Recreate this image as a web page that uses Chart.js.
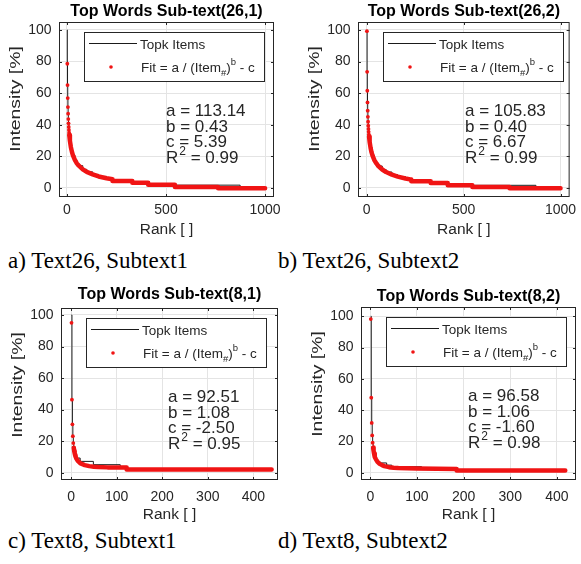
<!DOCTYPE html>
<html>
<head>
<meta charset="utf-8">
<script src="https://cdn.jsdelivr.net/npm/chart.js@4/dist/chart.umd.min.js"></script>
<style>
  body { margin: 0; background: #fff; width: 581px; height: 564px; position: relative; overflow: hidden; }
  canvas { position: absolute; }
  .cap { position: absolute; font-family: 'Liberation Serif', 'Times New Roman', serif; font-size: 23px; line-height: 23px; color: #000; white-space: nowrap; }
</style>
</head>
<body>
<canvas id="pa" width="290" height="240" style="left:0;top:0"></canvas>
<canvas id="pb" width="291" height="240" style="left:290px;top:0"></canvas>
<canvas id="pc" width="290" height="245" style="left:0;top:280px"></canvas>
<canvas id="pd" width="291" height="245" style="left:290px;top:280px"></canvas>
<div class="cap" style="left:8px;top:249px">a) Text26, Subtext1</div>
<div class="cap" style="left:278px;top:249px">b) Text26, Subtext2</div>
<div class="cap" style="left:8px;top:529px">c) Text8, Subtext1</div>
<div class="cap" style="left:278px;top:529px">d) Text8, Subtext2</div>
<script>
// ---- data ----
// (26,1)
const rankTopA = [1, 2, 3, 4, 5, 6, 7, 8, 10, 12, 15, 20, 25, 30, 40, 50, 60, 80, 100, 130, 160, 200, 230, 330, 410, 545, 874, 1000];
const topA     = [100, 78.6, 65.1, 56.9, 51.2, 47.0, 43.6, 40.9, 36.7, 33.5, 29.9, 25.8, 23.0, 20.8, 17.8, 15.6, 14.1, 11.8, 10.2, 8.6, 7.3, 6.2, 4.4, 3.3, 2.1, 1.8, 0.1, 0.1];
const rankDotA = [2, 3, 4, 5, 6, 7, 8, 9, 10, 11, 12];
const dotA     = [78.6, 65.1, 56.9, 51.2, 47.0, 43.6, 40.9, 38.6, 36.7, 35.0, 33.5];
const rankFitA = [12, 15, 20, 25, 30, 40, 50, 60, 80, 100, 130, 160, 200, 230, 230, 330, 330, 410, 410, 545, 545, 763, 763, 1000];
const fitA     = [33.5, 29.9, 25.8, 23.0, 20.8, 17.8, 15.6, 14.1, 11.8, 10.2, 8.6, 7.3, 6.2, 5.5, 4.4, 4.4, 3.3, 3.3, 2.1, 2.1, 0.6, 0.6, -0.1, -0.1];
const paramsA  = [113.14, 0.43, 5.39, 0.99];

// (26,2)
const rankTopB = [1, 2, 3, 4, 5, 6, 7, 8, 10, 12, 15, 20, 25, 30, 40, 50, 60, 80, 100, 130, 160, 200, 230, 330, 418, 545, 873, 1000];
const topB     = [100, 73.5, 61.5, 54.1, 48.9, 45.0, 41.9, 39.4, 35.5, 32.5, 29.2, 25.3, 22.5, 20.5, 17.5, 15.5, 13.9, 11.7, 10.1, 8.4, 7.2, 6.0, 4.3, 3.2, 1.8, 1.7, 0.0, 0.0];
const rankDotB = [1, 2, 3, 4, 5, 6, 7, 8, 9, 10, 11, 12];
const dotB     = [99.2, 73.5, 61.5, 54.1, 48.9, 45.0, 41.9, 39.4, 37.3, 35.5, 33.9, 32.5];
const rankFitB = [12, 15, 20, 25, 30, 40, 50, 60, 80, 100, 130, 160, 200, 230, 230, 330, 330, 418, 418, 545, 545, 737, 737, 1000];
const fitB     = [32.5, 29.2, 25.3, 22.5, 20.5, 17.5, 15.5, 13.9, 11.7, 10.1, 8.4, 7.2, 6.0, 5.3, 4.3, 4.3, 3.2, 3.2, 1.8, 1.8, 0.6, 0.6, -0.2, -0.2];
const paramsB  = [105.83, 0.40, 6.67, 0.99];

// (8,1)
const rankTopC = [1, 2, 3, 4, 5, 6, 7, 8, 10, 12, 16, 20, 49, 108, 122, 440];
const topC     = [100, 46.3, 30.7, 23.2, 18.8, 15.9, 13.8, 12.3, 10.2, 9.3, 9.3, 7.2, 5.1, 4.0, 2.0, 2.0];
const rankDotC = [1, 2, 3, 4, 5, 6];
const dotC     = [95.0, 46.3, 30.7, 23.2, 18.8, 15.9];
const rankFitC = [6, 7, 8, 9, 10, 12, 15, 20, 25, 30, 40, 50, 60, 80, 122, 122, 440];
const fitC     = [15.9, 13.8, 12.3, 11.1, 10.2, 8.8, 7.5, 6.1, 5.4, 4.85, 4.2, 3.85, 3.6, 3.4, 3.3, 2.0, 2.0];
const paramsC  = [92.51, 1.08, -2.50, 0.95];

// (8,2)
const rankTopD = [1, 2, 3, 4, 5, 6, 7, 8, 10, 12, 15, 20, 35, 46, 110, 185, 418];
const topD     = [100, 47.9, 31.8, 23.8, 19.1, 16.0, 13.9, 12.2, 10.0, 8.5, 7.1, 6.2, 4.8, 3.8, 2.4, 1.3, 1.3];
const rankDotD = [1, 2, 3, 4, 5, 6];
const dotD     = [98.2, 47.9, 31.8, 23.8, 19.1, 16.0];
const rankFitD = [6, 7, 8, 9, 10, 12, 15, 20, 25, 30, 40, 50, 60, 100, 185, 185, 418];
const fitD     = [16.0, 13.9, 12.2, 11.0, 10.0, 8.5, 7.1, 5.6, 4.8, 4.2, 3.5, 3.1, 2.9, 2.6, 2.4, 1.3, 1.3];
const paramsD  = [96.58, 1.06, -1.60, 0.98];

const titles = ['Top Words Sub-text(26,1)', 'Top Words Sub-text(26,2)', 'Top Words Sub-text(8,1)', 'Top Words Sub-text(8,2)'];
const yTicks = [0, 20, 40, 60, 80, 100];
const xTicksLong = [0, 500, 1000];
const xTicksShort = [0, 100, 200, 300, 400];

const RED = '#f01414';
const INK = '#262626';
const SANS = "'Liberation Sans', Arial, Helvetica, sans-serif";

function pts(xs, ys) {
  return xs.map((x, i) => ({ x: x, y: ys[i] }));
}

// axes box, inward ticks, title, ylabel, legend and fit text (matlab look)
const decor = {
  id: 'decor',
  afterDatasetsDraw(chart, args, o) {
    const ctx = chart.ctx, a = chart.chartArea;
    const xs = chart.scales.x, ys = chart.scales.y;
    ctx.save();
    ctx.strokeStyle = INK;
    ctx.lineWidth = 1;
    ctx.beginPath();
    xs.ticks.forEach(t => {
      const p = Math.round(xs.getPixelForValue(t.value)) + 0.5;
      ctx.moveTo(p, a.bottom); ctx.lineTo(p, a.bottom - 3);
      ctx.moveTo(p, a.top); ctx.lineTo(p, a.top + 3);
    });
    ys.ticks.forEach(t => {
      const p = Math.round(ys.getPixelForValue(t.value)) + 0.5;
      ctx.moveTo(a.left, p); ctx.lineTo(a.left + 3, p);
      ctx.moveTo(a.right, p); ctx.lineTo(a.right - 3, p);
    });
    ctx.stroke();
    ctx.strokeRect(a.left + 0.5, a.top + 0.5, a.right - a.left - 1, a.bottom - a.top - 1);

    // title
    ctx.fillStyle = '#000';
    ctx.font = 'bold 16px ' + SANS;
    ctx.textAlign = 'center';
    ctx.textBaseline = 'middle';
    ctx.fillText(o.title, (a.left + a.right) / 2, a.top - o.titleGap);

    // y label, stretched like the source
    ctx.save();
    ctx.translate(a.left - 43, a.top + 77);
    ctx.rotate(-Math.PI / 2);
    ctx.scale(1.25, 1);
    ctx.fillStyle = INK;
    ctx.font = '15.5px ' + SANS;
    ctx.fillText('Intensity [%]', 0, 0);
    ctx.restore();

    // legend
    const lx = a.left + 25, ly = a.top + 10;
    ctx.fillStyle = '#fff';
    ctx.fillRect(lx, ly, 180, 49);
    ctx.strokeStyle = INK;
    ctx.strokeRect(lx + 0.5, ly + 0.5, 180, 49);
    ctx.strokeStyle = '#1a1a1a';
    ctx.beginPath();
    ctx.moveTo(a.left + 30, a.top + 21.5);
    ctx.lineTo(a.left + 78, a.top + 21.5);
    ctx.stroke();
    ctx.fillStyle = RED;
    ctx.beginPath();
    ctx.arc(a.left + 52, a.top + 45, 1.8, 0, Math.PI * 2);
    ctx.fill();
    ctx.fillStyle = INK;
    ctx.textAlign = 'left';
    ctx.textBaseline = 'alphabetic';
    ctx.font = '13.5px ' + SANS;
    ctx.fillText('Topk Items', a.left + 81, a.top + 26.5);
    let x = a.left + 82;
    const by = a.top + 50;
    const seg = (s, size, dy) => {
      ctx.font = size + 'px ' + SANS;
      ctx.fillText(s, x, by + dy);
      x += ctx.measureText(s).width;
    };
    seg('Fit = a / (Item', 13.5, 0);
    seg('#', 9.5, 4);
    seg(')', 13.5, 0);
    seg('b', 9.5, -7);
    seg(' - c', 13.5, 0);

    // fit parameters
    const p = o.params;
    ctx.font = '17px ' + SANS;
    const tx = a.left + 107, ty = a.top + 94;
    ctx.fillText('a = ' + p[0].toFixed(2), tx, ty);
    ctx.fillText('b = ' + p[1].toFixed(2), tx, ty + 15.7);
    ctx.fillText('c = ' + p[2].toFixed(2), tx, ty + 31.4);
    ctx.fillText('R', tx, ty + 47.1);
    let rx = tx + ctx.measureText('R').width;
    ctx.font = '12px ' + SANS;
    ctx.fillText('2', rx + 1, ty + 47.1 - 8);
    rx += ctx.measureText('2').width + 1;
    ctx.font = '17px ' + SANS;
    ctx.fillText(' = ' + p[3].toFixed(2), rx, ty + 47.1);
    ctx.restore();
  }
};

function makePanel(id, cfg) {
  const cv = document.getElementById(id);
  const W = cv.width, H = cv.height;
  return new Chart(cv, {
    type: 'scatter',
    data: {
      datasets: [
        {
          label: 'Fit',
          data: pts(cfg.rankDot, cfg.dot),
          showLine: false,
          pointRadius: 1.9,
          pointBackgroundColor: RED,
          pointBorderWidth: 0,
          order: 0
        },
        {
          label: 'Fit band',
          data: pts(cfg.rankFit, cfg.fit),
          showLine: true,
          borderColor: RED,
          borderWidth: 4.5,
          borderCapStyle: 'round',
          borderJoinStyle: 'round',
          pointRadius: 0,
          order: 1
        },
        {
          label: 'Topk Items',
          data: pts(cfg.rankTop, cfg.top),
          showLine: true,
          stepped: true,
          borderColor: '#1a1a1a',
          borderWidth: 1,
          pointRadius: 0,
          order: 2
        }
      ]
    },
    options: {
      responsive: false,
      animation: false,
      devicePixelRatio: 1,
      layout: { padding: { left: 0, right: W - cfg.R, top: cfg.T, bottom: 0 } },
      plugins: {
        legend: { display: false },
        tooltip: { enabled: false },
        decor: { title: cfg.title, titleGap: cfg.titleGap, params: cfg.params }
      },
      scales: {
        x: {
          type: 'linear',
          min: cfg.xMin,
          max: cfg.xMax,
          border: { display: false },
          grid: { color: '#e4e4e4', drawTicks: false },
          afterBuildTicks: s => { s.ticks = cfg.xTicks.map(v => ({ value: v })); },
          ticks: {
            autoSkip: false,
            maxRotation: 0,
            padding: cfg.xPad,
            color: INK,
            font: { family: SANS, size: 14 },
            callback: v => String(v)
          },
          title: {
            display: true,
            text: 'Rank [ ]',
            color: INK,
            font: { family: SANS, size: 15.5 },
            padding: { top: 0, bottom: 1 }
          },
          afterFit: s => { s.height = H - cfg.B; }
        },
        y: {
          type: 'linear',
          min: cfg.yMin,
          max: cfg.yMax,
          border: { display: false },
          grid: { color: '#e4e4e4', drawTicks: false },
          afterBuildTicks: s => { s.ticks = yTicks.map(v => ({ value: v })); },
          ticks: {
            padding: 7.5,
            color: INK,
            font: { family: SANS, size: 14 },
            callback: v => String(v)
          },
          afterFit: s => { s.width = cfg.L; }
        }
      }
    },
    plugins: [decor]
  });
}

makePanel('pa', {
  rankTop: rankTopA, top: topA, rankDot: rankDotA, dot: dotA, rankFit: rankFitA, fit: fitA, params: paramsA,
  title: titles[0], titleGap: 10.5, xTicks: xTicksLong,
  L: 59, R: 274, T: 22, B: 197, xPad: 4.6,
  xMin: -40, xMax: 1045, yMin: -5.7, yMax: 105
});
makePanel('pb', {
  rankTop: rankTopB, top: topB, rankDot: rankDotB, dot: dotB, rankFit: rankFitB, fit: fitB, params: paramsB,
  title: titles[1], titleGap: 10.5, xTicks: xTicksLong,
  L: 68, R: 284, T: 22, B: 197, xPad: 4.6,
  xMin: -45, xMax: 1047, yMin: -5.7, yMax: 105
});
makePanel('pc', {
  rankTop: rankTopC, top: topC, rankDot: rankDotC, dot: dotC, rankFit: rankFitC, fit: fitC, params: paramsC,
  title: titles[2], titleGap: 13, xTicks: xTicksShort,
  L: 61, R: 278, T: 28, B: 200, xPad: 8.3,
  xMin: -22, xMax: 454, yMin: -4.6, yMax: 104.4
});
makePanel('pd', {
  rankTop: rankTopD, top: topD, rankDot: rankDotD, dot: dotD, rankFit: rankFitD, fit: fitD, params: paramsD,
  title: titles[3], titleGap: 10.5, xTicks: xTicksShort,
  L: 71, R: 286, T: 27, B: 200, xPad: 8.3,
  xMin: -20, xMax: 441, yMin: -4.7, yMax: 105.9
});
</script>
</body>
</html>
